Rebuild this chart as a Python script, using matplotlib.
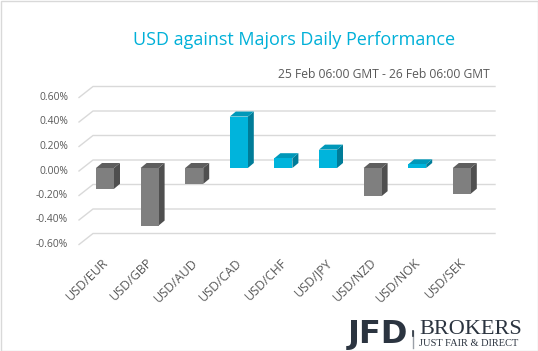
import matplotlib
matplotlib.use("Agg")
import matplotlib.pyplot as plt
from matplotlib.patches import Polygon, Rectangle
from matplotlib.lines import Line2D

categories = ["USD/EUR", "USD/GBP", "USD/AUD", "USD/CAD", "USD/CHF",
              "USD/JPY", "USD/NZD", "USD/NOK", "USD/SEK"]
values = [-0.17, -0.47, -0.13, 0.42, 0.08, 0.15, -0.23, 0.03, -0.21]
yticks = [0.6, 0.4, 0.2, 0.0, -0.2, -0.4, -0.6]
title = "USD against Majors Daily Performance"
subtitle = "25 Feb 06:00 GMT - 26 Feb 06:00 GMT"

W, H = 538, 351
fig = plt.figure(figsize=(W / 100, H / 100), dpi=100)
plt.rcParams['font.family'] = ['Open Sans', 'DejaVu Sans']

# axes in pixel layout
px_left, px_right, px_top, px_bot = 60, 510, 80, 255
cat0, cat_step = 105.0, 44.6
zero_px, px_per_unit = 168.0, 122.5
ax = fig.add_axes([px_left / W, 1 - px_bot / H, (px_right - px_left) / W, (px_bot - px_top) / H])
ax.set_xlim((px_left - cat0) / cat_step, (px_right - cat0) / cat_step)
ax.set_ylim(-(px_bot - zero_px) / px_per_unit, (zero_px - px_top) / px_per_unit)
ax.axis("off")

def dx(p):
    return p / cat_step

def dy(p):
    return p / px_per_unit

# gridlines (back wall + floor diagonals)
x_front = dx(79 - cat0)
x_back = dx(93 - cat0)
x_end = dx(495 - cat0)
for v in yticks:
    yf = v - dy(3)
    yb = v + dy(8)
    ax.add_line(Line2D([x_front, x_back, x_end], [yf, yb, yb], color="#d9d9d9", lw=1.0, zorder=1))
    ax.text(dx(68 - cat0), yf, f"{v:.2f}%", ha="right", va="center",
            fontsize=7.4, color="#595959", zorder=5)

# bars
bw = dx(18)
ox, oy = dx(6), dy(5)
for i, (c, v) in enumerate(zip(categories, values)):
    if v >= 0:
        front, top, side = "#00B4DC", "#0098B9", "#007C98"
    else:
        front, top, side = "#7F7F7F", "#5E5E5E", "#4F4F4F"
    x0, x1 = i - bw / 2, i + bw / 2
    lo, hi = min(0, v), max(0, v)
    ax.add_patch(Polygon([[x1, lo], [x1 + ox, lo + oy], [x1 + ox, hi + oy], [x1, hi]],
                         closed=True, fc=side, ec="none", zorder=3))
    ax.add_patch(Polygon([[x0, hi], [x1, hi], [x1 + ox, hi + oy], [x0 + ox, hi + oy]],
                         closed=True, fc=top, ec="none", zorder=3))
    ax.add_patch(Rectangle((x0, lo), bw, hi - lo, fc=front, ec="none", zorder=4))
    ax.text(i - dx(3), -(256 - zero_px) / px_per_unit, c, rotation=45, ha="right", va="top",
            rotation_mode="anchor", fontsize=9, color="#595959", clip_on=False)

# title and subtitle
fig.text(294 / W, 1 - 40 / H, title, ha="center", va="center", fontsize=13, color="#00B0D8")
fig.text(490 / W, 1 - 74 / H, subtitle, ha="right", va="center", fontsize=8.7, color="#595959")

# logo
fig.text(348 / W, 1 - 335 / H, "JFD", ha="left", va="center", fontsize=23,
         fontweight="bold", color="#2B3440", family=["DejaVu Sans"])
fig.add_artist(Line2D([413 / W, 413 / W], [1 - 331 / H, 1 - 348 / H], color="#9aa0a8", lw=1.0))
fig.add_artist(Line2D([413 / W, 413 / W], [1 - 331 / H, 1 - 336 / H], color="#2B3440", lw=1.2))
fig.text(419 / W, 1 - 330 / H, "BROKERS", ha="left", va="center", fontsize=16,
         color="#2B3440", family=["Liberation Serif", "DejaVu Serif"])
fig.text(419 / W, 1 - 344 / H, "JUST FAIR & DIRECT", ha="left", va="center", fontsize=7.5,
         color="#2B3440", family=["Liberation Serif", "DejaVu Serif"])

# border
fig.add_artist(Rectangle((0.5 / W, 0.5 / H), (W - 1) / W, (H - 1) / H, transform=fig.transFigure,
                         fill=False, ec="#d9d9d9", lw=1.0))

fig.savefig("out.png", dpi=100)
